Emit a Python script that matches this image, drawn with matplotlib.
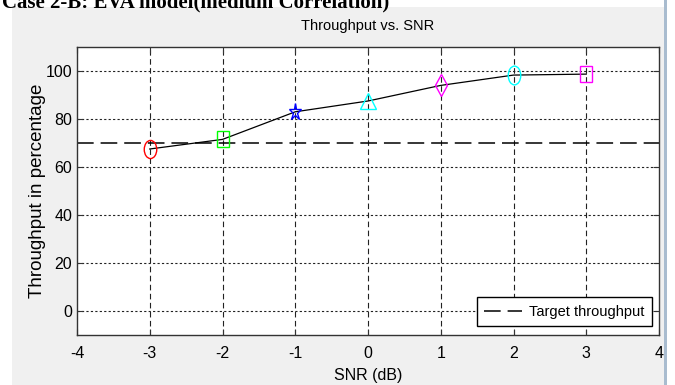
import matplotlib
matplotlib.use("Agg")
import matplotlib.pyplot as plt
from matplotlib.markers import MarkerStyle
from matplotlib.patches import Rectangle
from matplotlib.transforms import Affine2D

snr_db = [-3, -2, -1, 0, 1, 2, 3]
throughput = [67.5, 71.5, 83.0, 87.5, 94.0, 98.3, 98.7]
target_throughput = 70

x_ticks = [-4, -3, -2, -1, 0, 1, 2, 3, 4]
y_ticks = [0, 20, 40, 60, 80, 100]

header = "Case 2-B: EVA model(medium Correlation)"
title = "Throughput vs. SNR"
xlabel = "SNR (dB)"
ylabel = "Throughput in percentage"
legend_label = "Target throughput"

# marker look for each point (MATLAB-ish, stretched vertically)
point_styles = [
    ("o", "#ff0000", 9.0, 1.45),
    ("s", "#00ff00", 8.0, 1.45),
    ("*", "#0000ff", 9.5, 1.3),
    ("^", "#00ffff", 11.0, 1.05),
    ("D", "#ff00ff", 6.6, 1.7),
    ("o", "#00ffff", 9.0, 1.5),
    ("s", "#ff00ff", 8.0, 1.45),
]

sans = ["Liberation Sans", "DejaVu Sans"]
plt.rcParams["lines.scale_dashes"] = False

W, H = 675, 385
fig = plt.figure(figsize=(W / 100, H / 100), dpi=100)
fig.patch.set_facecolor("white")

# gray MATLAB figure panel + window edge
fig.patches.append(Rectangle((12 / W, 0), (664 - 12) / W, 1 - 7 / H,
                             transform=fig.transFigure, facecolor="#f0f0f0",
                             edgecolor="none", zorder=-5))
fig.patches.append(Rectangle((664 / W, 0), 3 / W, 1,
                             transform=fig.transFigure, facecolor="#a9bccf",
                             edgecolor="none", zorder=-5))

fig.text(2 / W, 1 - 7 / H, header, family=["Liberation Serif", "DejaVu Serif"],
         fontweight="bold", fontsize=15, va="baseline", ha="left", zorder=-4)

ax = fig.add_axes([77 / W, (H - 335) / H, (659 - 77) / W, (335 - 47) / H])
ax.set_facecolor("white")

ax.plot(snr_db, throughput, color="black", lw=0.9, zorder=3)
for x, y, (m, c, ms, sy) in zip(snr_db, throughput, point_styles):
    style = MarkerStyle(m, fillstyle="none", transform=Affine2D().scale(1, sy))
    ax.plot([x], [y], linestyle="none", marker=style, markersize=ms,
            markeredgecolor=c, markeredgewidth=1.0, zorder=4)

ax.axhline(target_throughput, color="black", lw=1.1, dashes=(12, 5),
           label=legend_label, zorder=2)

ax.set_xlim(-4, 4)
ax.set_ylim(-10, 110)
ax.set_xticks(x_ticks)
ax.set_yticks(y_ticks)
ax.set_xticklabels([str(v) for v in x_ticks], family=sans, fontsize=11.5)
ax.set_yticklabels([str(v) for v in y_ticks], family=sans, fontsize=11.5)
ax.tick_params(direction="in", length=4.5, width=0.8, color="#333333",
               top=True, right=True)
ax.tick_params(axis="x", pad=8)
ax.tick_params(axis="y", pad=3.5)

for x in x_ticks[1:-1]:
    ax.axvline(x, color="#222222", lw=0.8, dashes=(4, 2.5), zorder=1)
for y in y_ticks:
    ax.axhline(y, color="#222222", lw=0.8, dashes=(1.6, 1.6), zorder=1)

for s in ax.spines.values():
    s.set_color("#333333")
    s.set_linewidth(1.0)

ax.set_title(title, family=sans, fontsize=10.5, pad=12)
ax.set_xlabel(xlabel, family=sans, fontsize=11.5, labelpad=5)
ax.set_ylabel(ylabel, family=sans, fontsize=13.5, labelpad=0)

leg = ax.legend(loc="lower right", bbox_to_anchor=(0.988, 0.031),
                borderaxespad=0, fancybox=False, framealpha=1,
                edgecolor="black", handlelength=2.6, handletextpad=0.5,
                borderpad=0.5, prop={"family": sans, "size": 10.5})
leg.get_frame().set_linewidth(1.0)

fig.savefig("out.png", dpi=100)
